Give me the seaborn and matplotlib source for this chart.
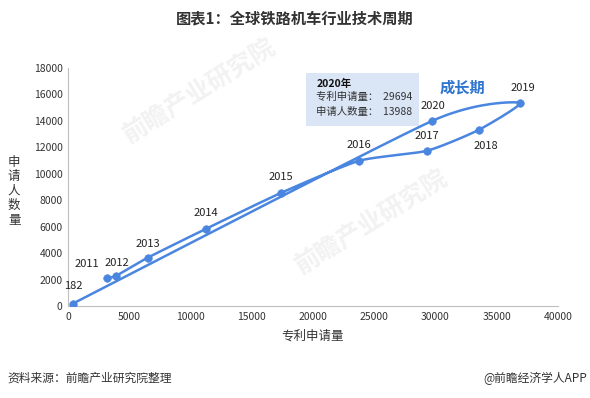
import numpy as np
import pandas as pd
import matplotlib
matplotlib.use("Agg")
import matplotlib.pyplot as plt
import seaborn as sns

# data (order as plotted)
labels = ['2011', '2012', '2013', '2014', '2015', '2016', '2017', '2018', '2019', '2020', '182']
patents = [3150, 3900, 6500, 11250, 17400, 23750, 29300, 33550, 36900, 29694, 400]
applicants = [2130, 2270, 3650, 5830, 8560, 10980, 11740, 13330, 15380, 13988, 182]

df = pd.DataFrame({'label': labels, 'patents': patents, 'applicants': applicants})

sns.set_theme(style="white")
plt.rcParams['font.family'] = ['Noto Sans CJK SC', 'DejaVu Sans']

blue = '#4a86e0'

fig = plt.figure(figsize=(5.9, 3.98), dpi=100)
ax = fig.add_axes([0.1153, 0.2312, 0.8305, 0.5979])
ax.patch.set_alpha(0)

# smoothed line (cardinal spline through the points, in axis-scaled units)
xs = df['patents'].to_numpy() / 40000.0 * 490
ys = df['applicants'].to_numpy() / 18000.0 * 238
P = np.column_stack([xs, ys])
n = len(P)
M = np.zeros_like(P)
for i in range(n):
    a = P[max(i - 1, 0)]
    b = P[min(i + 1, n - 1)]
    M[i] = 0.6 * (b - a) / 2
t = np.linspace(0, 1, 40)[:, None]
h00 = 2 * t ** 3 - 3 * t ** 2 + 1
h10 = t ** 3 - 2 * t ** 2 + t
h01 = -2 * t ** 3 + 3 * t ** 2
h11 = t ** 3 - t ** 2
curve = np.vstack([h00 * P[i] + h10 * M[i] + h01 * P[i + 1] + h11 * M[i + 1]
                   for i in range(n - 1)])
ax.plot(curve[:, 0] / 490 * 40000, curve[:, 1] / 238 * 18000, color=blue, lw=1.8, zorder=2)

sns.scatterplot(data=df, x='patents', y='applicants', color=blue, s=30,
                edgecolor=blue, ax=ax, zorder=3)

offsets = {'2011': (-14, 6), '2012': (1, 6), '2013': (0, 6), '2014': (0, 8),
           '2015': (0, 8), '2016': (0, 8), '2017': (0, 7), '2018': (5, -15),
           '2019': (2, 7), '2020': (1, 7), '182': (0, 9)}
for _, r in df.iterrows():
    dx, dy = offsets[r['label']]
    ax.annotate(r['label'], (r['patents'], r['applicants']), xytext=(dx, dy),
                textcoords='offset points', ha='center', va='bottom',
                fontsize=8, color='#222222', zorder=4)

ax.set_xlim(0, 40000)
ax.set_ylim(0, 18000)
ax.set_xticks(range(0, 40001, 5000))
ax.set_yticks(range(0, 18001, 2000))
ax.tick_params(labelsize=7.5, colors='#333333', length=0, pad=4)
for s in ['top', 'right']:
    ax.spines[s].set_visible(False)
for s in ['left', 'bottom']:
    ax.spines[s].set_color('#bfbfbf')
    ax.spines[s].set_linewidth(0.8)

ax.set_xlabel('专利申请量', fontsize=9, color='#333333', labelpad=6)
ax.set_ylabel('')
fig.text(0.024, 0.52, '申\n请\n人\n数\n量', fontsize=9, color='#333333',
         ha='center', va='center', linespacing=1.15)

# info box
ax.add_patch(plt.Rectangle((19430, 13610), 9220, 4010, color='#dae5f5', lw=0, zorder=1))
ax.text(20250, 16800, '2020年', fontsize=7.5, fontweight='bold', color='#111111',
        va='center', ha='left', zorder=5)
ax.text(20250, 15800, '专利申请量：  29694', fontsize=7.5,
        color='#333333', va='center', ha='left', zorder=5)
ax.text(20250, 14680, '申请人数量：  13988', fontsize=7.5,
        color='#333333', va='center', ha='left', zorder=5)

ax.text(32200, 16500, '成长期', fontsize=11, fontweight='bold', color='#2f75d0',
        ha='center', va='center')

# faint watermark, behind the data
for (wx, wy) in [(0.27, 0.9), (0.62, 0.35)]:
    ax.text(wx, wy, '前瞻产业研究院', transform=ax.transAxes, fontsize=18,
            fontweight='bold', color='#f2f2f2', rotation=32, ha='center',
            va='center', zorder=0)

fig.text(0.5, 0.953, '图表1：全球铁路机车行业技术周期', fontsize=11, fontweight='bold',
         color='#333333', ha='center', va='center')
fig.text(0.012, 0.05, '资料来源：前瞻产业研究院整理', fontsize=8.5, color='#333333',
         ha='left', va='center')
fig.text(0.995, 0.05, '@前瞻经济学人APP', fontsize=8.5, color='#333333',
         ha='right', va='center')

fig.savefig('out.png', dpi=100)
